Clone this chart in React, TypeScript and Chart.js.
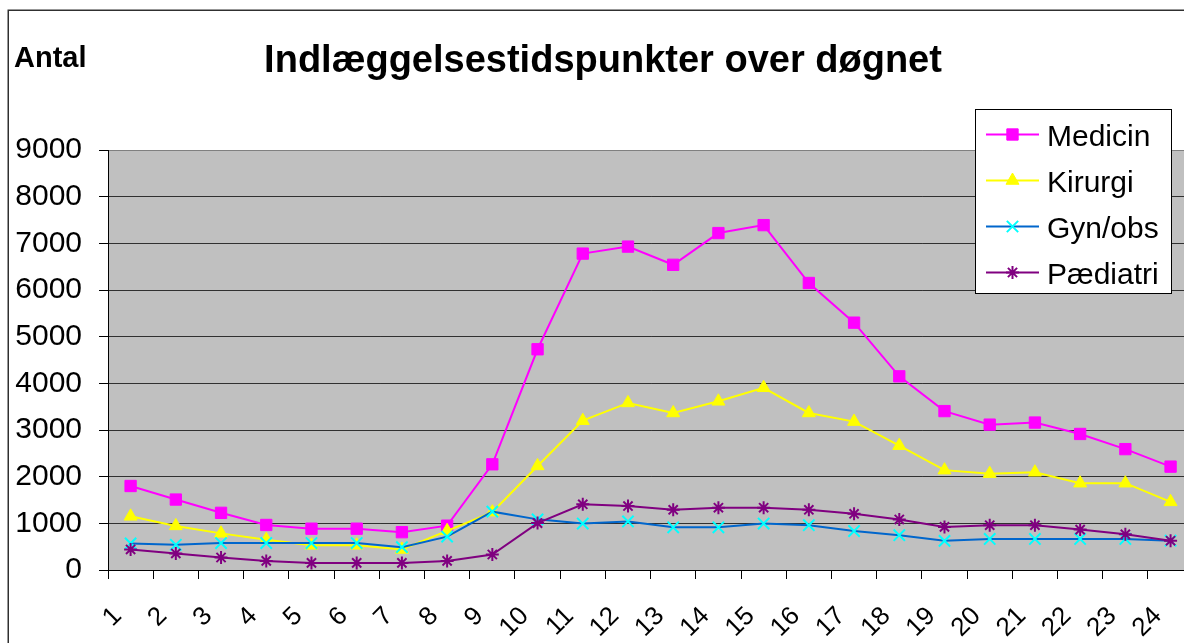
import React, { useEffect, useRef } from 'react';
import { Chart, registerables } from 'chart.js';
import { drawPoint } from 'chart.js/helpers';

Chart.register(...registerables);

const hours = ['1', '2', '3', '4', '5', '6', '7', '8', '9', '10', '11', '12', '13', '14', '15', '16', '17', '18', '19', '20', '21', '22', '23', '24'];
const seriesNames = ['Medicin', 'Kirurgi', 'Gyn/obs', 'Pædiatri'];
const medicin = [1800, 1510, 1225, 965, 885, 885, 810, 950, 2265, 4730, 6780, 6930, 6540, 7220, 7390, 6150, 5300, 4150, 3405, 3115, 3160, 2915, 2590, 2215];
const kirurgi = [1150, 945, 785, 650, 530, 530, 440, 840, 1240, 2230, 3200, 3580, 3365, 3615, 3905, 3365, 3180, 2665, 2140, 2065, 2095, 1860, 1860, 1460];
const gynObs = [570, 540, 578, 578, 578, 578, 490, 715, 1250, 1085, 995, 1040, 915, 915, 995, 960, 835, 745, 625, 665, 665, 665, 665, 628];
const paediatri = [440, 355, 268, 195, 152, 152, 152, 195, 332, 1005, 1408, 1370, 1290, 1335, 1335, 1290, 1205, 1083, 924, 960, 960, 866, 765, 628];
const yMin = 0;
const yMax = 9000;
const yStep = 1000;
const titleText = 'Indlæggelsestidspunkter over døgnet';
const yAxisTitle = 'Antal';

const FONT = '"Liberation Sans", Arial, Helvetica, sans-serif';
const W = 1215;
const H = 643;

const bgPlugin = {
  id: 'bgPlugin',
  beforeDraw(chart: any) {
    const { ctx, chartArea: a } = chart;
    ctx.save();
    ctx.fillStyle = '#ffffff';
    ctx.fillRect(0, 0, chart.width, chart.height);
    ctx.strokeStyle = '#303030';
    ctx.lineWidth = 1.5;
    ctx.strokeRect(8.25, 10.25, chart.width + 100, chart.height + 100);
    ctx.fillStyle = '#C0C0C0';
    ctx.fillRect(a.left, a.top, a.right - a.left, a.bottom - a.top);
    ctx.restore();
  },
};

const textPlugin = {
  id: 'textPlugin',
  afterDraw(chart: any) {
    const { ctx } = chart;
    ctx.save();
    ctx.fillStyle = '#000';
    ctx.textBaseline = 'alphabetic';
    ctx.textAlign = 'center';
    ctx.font = `bold 38px ${FONT}`;
    ctx.fillText(titleText, 603, 72);
    ctx.textAlign = 'left';
    ctx.font = `bold 29px ${FONT}`;
    ctx.fillText(yAxisTitle, 14, 67);

    // legend
    const lx = 975.5, ly = 109.5, lw = 196, lh = 184;
    ctx.fillStyle = '#ffffff';
    ctx.fillRect(lx, ly, lw, lh);
    ctx.strokeStyle = '#000';
    ctx.lineWidth = 1;
    ctx.strokeRect(lx, ly, lw, lh);
    chart.data.datasets.forEach((ds: any, i: number) => {
      const cy = 134.5 + 46 * i;
      ctx.strokeStyle = ds.borderColor;
      ctx.lineWidth = 2;
      ctx.beginPath();
      ctx.moveTo(986, cy);
      ctx.lineTo(1039, cy);
      ctx.stroke();
      ctx.fillStyle = ds.pointBackgroundColor;
      ctx.strokeStyle = ds.pointBorderColor;
      ctx.lineWidth = ds.pointBorderWidth;
      drawPoint(ctx, { pointStyle: ds.pointStyle, radius: ds.pointRadius, rotation: 0, borderWidth: ds.pointBorderWidth }, 1012.5, cy);
      ctx.fillStyle = '#000';
      ctx.font = `30px ${FONT}`;
      ctx.textAlign = 'left';
      ctx.textBaseline = 'alphabetic';
      ctx.fillText(ds.label, 1047, cy + 11);
    });
    ctx.restore();
  },
};

export default function App() {
  const ref = useRef<HTMLCanvasElement | null>(null);
  useEffect(() => {
    if (!ref.current) return;
    const chart = new Chart(ref.current, {
      type: 'line',
      data: {
        labels: hours,
        datasets: [
          {
            label: seriesNames[0], data: medicin, borderColor: '#FF00FF', backgroundColor: '#FF00FF',
            pointStyle: 'rect', pointRadius: 8, pointBackgroundColor: '#FF00FF', pointBorderColor: '#FF00FF',
            pointBorderWidth: 1, borderWidth: 2, tension: 0, order: 4,
          },
          {
            label: seriesNames[1], data: kirurgi, borderColor: '#FFFF00', backgroundColor: '#FFFF00',
            pointStyle: 'triangle', pointRadius: 7.5, pointBackgroundColor: '#FFFF00', pointBorderColor: '#FFFF00',
            pointBorderWidth: 1, borderWidth: 2, tension: 0, order: 3,
          },
          {
            label: seriesNames[2], data: gynObs, borderColor: '#0066CC', backgroundColor: '#00FFFF',
            pointStyle: 'crossRot', pointRadius: 8, pointBackgroundColor: '#00FFFF', pointBorderColor: '#00FFFF',
            pointBorderWidth: 2, borderWidth: 2, tension: 0, order: 2,
          },
          {
            label: seriesNames[3], data: paediatri, borderColor: '#800080', backgroundColor: '#800080',
            pointStyle: 'star', pointRadius: 6.5, pointBackgroundColor: '#800080', pointBorderColor: '#800080',
            pointBorderWidth: 2, borderWidth: 2, tension: 0, order: 1,
          },
        ],
      },
      options: {
        responsive: false,
        animation: false,
        devicePixelRatio: 1,
        layout: { padding: { left: 0, right: W - 1197.6, top: 150, bottom: 0 } },
        plugins: {
          legend: { display: false },
          title: { display: false },
          tooltip: { enabled: false },
        },
        scales: {
          x: {
            type: 'category',
            offset: true,
            grid: { offset: true, drawOnChartArea: false, drawTicks: true, tickLength: 9, tickColor: '#000', lineWidth: 1 },
            border: { display: true, color: '#000', width: 1 },
            ticks: {
              font: { family: FONT, size: 26 }, color: '#000', minRotation: 45, maxRotation: 45,
              padding: 22, autoSkip: false, labelOffset: -13,
            },
            afterFit: (s: any) => { s.height = H - 570; },
          },
          y: {
            min: yMin,
            max: yMax,
            ticks: {
              stepSize: yStep, font: { family: FONT, size: 30 }, color: '#000', padding: 17,
              callback: (v: any) => String(v),
            },
            grid: {
              color: (c: any) => (c.tick && c.tick.value === yMax ? '#808080' : '#303030'),
              tickColor: '#000', tickLength: 9, lineWidth: 1,
            },
            border: { display: true, color: '#000', width: 1 },
            afterFit: (s: any) => { s.width = 108; },
          },
        },
      },
      plugins: [bgPlugin, textPlugin],
    } as any);
    return () => chart.destroy();
  }, []);

  return (
    <div style={{ position: 'fixed', left: 0, top: 0, width: 1184, height: 643, overflow: 'hidden', background: '#fff' }}>
      <canvas ref={ref} width={W} height={H} style={{ display: 'block', width: W, height: H }} />
    </div>
  );
}
